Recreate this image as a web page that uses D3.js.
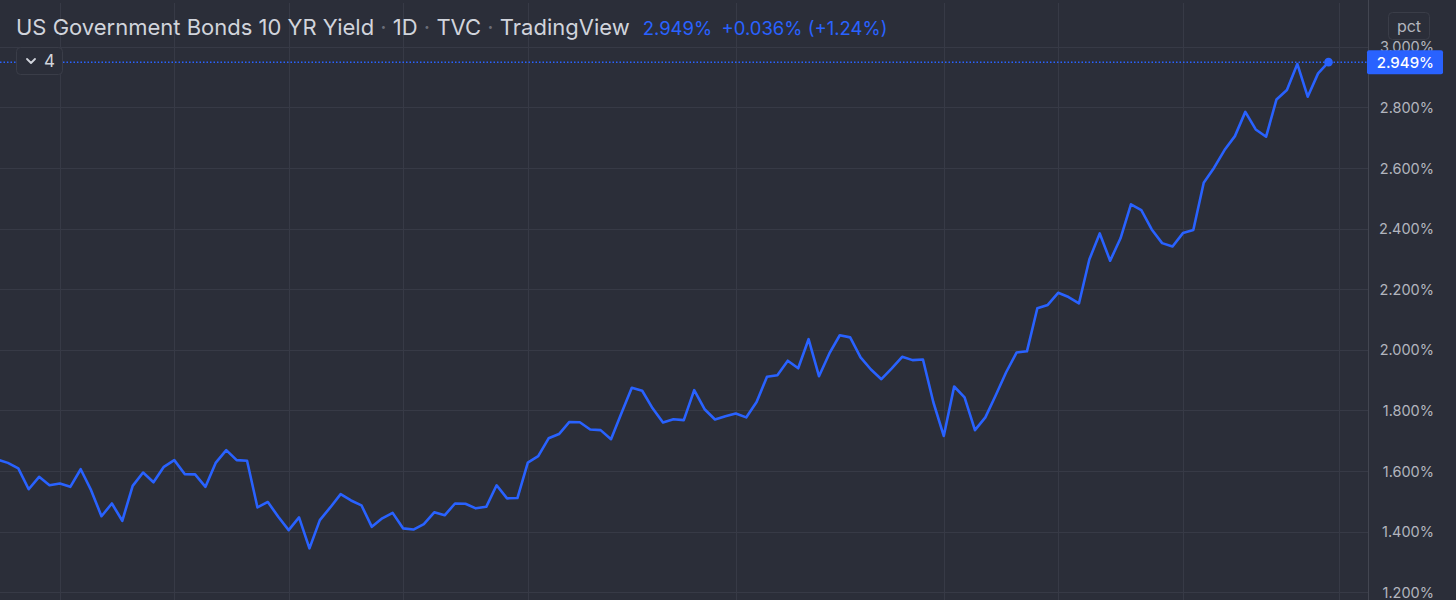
<!DOCTYPE html>
<html>
<head>
<meta charset="utf-8">
<script src="https://cdn.jsdelivr.net/npm/d3@7/dist/d3.min.js"></script>
<style>
  html, body { margin: 0; padding: 0; background: #2b2e39; }
  svg { display: block; }
</style>
</head>
<body>
<svg id="chart" width="1456" height="600"></svg>
<script>
// ---- Data (daily closes, US 10Y yield, %) ----
const yields = [
  1.638, 1.627, 1.609, 1.540, 1.581, 1.553, 1.559, 1.548, 1.606, 1.537,
  1.451, 1.493, 1.436, 1.551, 1.595, 1.563, 1.614, 1.636, 1.590, 1.589,
  1.548, 1.628, 1.669, 1.636, 1.634, 1.480, 1.498, 1.449, 1.405, 1.447,
  1.345, 1.438, 1.480, 1.524, 1.503, 1.487, 1.416, 1.444, 1.462, 1.411,
  1.407, 1.425, 1.464, 1.454, 1.493, 1.492, 1.477, 1.482, 1.553, 1.510,
  1.511, 1.628, 1.649, 1.708, 1.722, 1.762, 1.761, 1.737, 1.735, 1.705,
  1.791, 1.875, 1.865, 1.807, 1.760, 1.771, 1.768, 1.867, 1.804, 1.770,
  1.781, 1.790, 1.777, 1.828, 1.911, 1.916, 1.964, 1.939, 2.035, 1.913,
  1.988, 2.048, 2.041, 1.975, 1.935, 1.903, 1.939, 1.977, 1.966, 1.968,
  1.827, 1.716, 1.879, 1.843, 1.735, 1.777, 1.850, 1.926, 1.991, 1.995,
  2.137, 2.148, 2.188, 2.174, 2.153, 2.298, 2.384, 2.294, 2.368, 2.480,
  2.461, 2.397, 2.352, 2.341, 2.385, 2.395, 2.551, 2.601, 2.659, 2.705,
  2.785, 2.727, 2.703, 2.826, 2.857, 2.943, 2.835, 2.912, 2.949
];
const timeTickIndex = [6, 17, 28, 39, 51, 71, 91, 102, 114, 129];
const priceTicks = [1.2, 1.4, 1.6, 1.8, 2.0, 2.2, 2.4, 2.6, 2.8, 3.0];
const titleParts = ["US Government Bonds 10 YR Yield", "1D", "TVC", "TradingView"];
const lastValue = 2.949;
const change = "+0.036%";
const changePct = "(+1.24%)";
const intervalCount = "4";
const unitLabel = "pct";

// ---- Layout ----
const W = 1456, H = 600;
const axisX = 1368;
const BG = "#2b2e39", GRID = "#373a46", BORDER = "#434651";
const BLUE = "#2962ff", TEXT = "#d1d4dc", AXIS_TEXT = "#b2b5be";
const FONT = "Inter, 'Noto Sans', sans-serif";

const svg = d3.select("#chart");
svg.append("rect").attr("width", W).attr("height", H).attr("fill", BG);

const x = d3.scaleLinear().domain([0, yields.length - 1]).range([-2.5, 1328.5]);
const y = d3.scaleLinear().domain([1.2, 3.0]).range([592.3, 46.7]);

svg.append("defs").append("clipPath").attr("id", "plot")
  .append("rect").attr("x", 0).attr("y", 0).attr("width", axisX).attr("height", H);

const plot = svg.append("g").attr("clip-path", "url(#plot)");

// grid
plot.selectAll("line.vg").data(timeTickIndex).join("line")
  .attr("class", "vg")
  .attr("x1", d => Math.round(x(d)) + 0.5).attr("x2", d => Math.round(x(d)) + 0.5)
  .attr("y1", 3).attr("y2", H)
  .attr("stroke", GRID).attr("stroke-width", 1);
plot.selectAll("line.hg").data(priceTicks).join("line")
  .attr("class", "hg")
  .attr("x1", 0).attr("x2", axisX)
  .attr("y1", d => Math.round(y(d)) + 0.5).attr("y2", d => Math.round(y(d)) + 0.5)
  .attr("stroke", GRID).attr("stroke-width", 1);

// price line (dotted)
plot.append("line")
  .attr("x1", 0).attr("x2", axisX)
  .attr("y1", y(lastValue)).attr("y2", y(lastValue))
  .attr("stroke", BLUE).attr("stroke-width", 1.5)
  .attr("stroke-dasharray", "1.5,2");

// series line
const line = d3.line().x((d, i) => x(i)).y(d => y(d));
plot.append("path").datum(yields)
  .attr("d", line)
  .attr("fill", "none")
  .attr("stroke", BLUE)
  .attr("stroke-width", 2.6)
  .attr("stroke-linejoin", "round")
  .attr("stroke-linecap", "round");

plot.append("circle")
  .attr("cx", x(yields.length - 1)).attr("cy", y(yields[yields.length - 1]))
  .attr("r", 4.3).attr("fill", BLUE);

// right axis
svg.append("line")
  .attr("x1", axisX + 0.5).attr("x2", axisX + 0.5).attr("y1", 0).attr("y2", H)
  .attr("stroke", BORDER).attr("stroke-width", 1);

const axisG = svg.append("g").attr("transform", `translate(1434,0)`);
const yAxis = d3.axisRight(y).tickValues(priceTicks)
  .tickFormat(d => d3.format(".3f")(d) + "%").tickSize(0).tickPadding(0);
axisG.call(yAxis);
axisG.select(".domain").remove();
axisG.selectAll("text")
  .attr("text-anchor", "end")
  .attr("fill", AXIS_TEXT)
  .attr("font-family", FONT)
  .attr("font-size", 14.5)
  .attr("dy", "0.35em");

// pct box
svg.append("rect")
  .attr("x", 1388.5).attr("y", 12.5).attr("width", 41).attr("height", 27).attr("rx", 4)
  .attr("fill", BG).attr("stroke", "#3a3d48");
svg.append("text")
  .attr("x", 1409).attr("y", 26).attr("dy", "0.35em")
  .attr("text-anchor", "middle")
  .attr("fill", AXIS_TEXT)
  .attr("font-family", FONT)
  .attr("font-size", 16)
  .text(unitLabel);

// last price label
svg.append("rect")
  .attr("x", 1367).attr("y", y(lastValue) - 12).attr("width", 76).attr("height", 24).attr("rx", 2)
  .attr("fill", BLUE);
svg.append("text")
  .attr("x", 1434).attr("y", y(lastValue)).attr("dy", "0.36em")
  .attr("text-anchor", "end")
  .attr("fill", "#ffffff")
  .attr("font-family", FONT)
  .attr("font-size", 15).attr("font-weight", 500)
  .text(d3.format(".3f")(lastValue) + "%");

// title
const title = svg.append("text")
  .attr("x", 16).attr("y", 35)
  .attr("font-family", FONT)
  .attr("font-size", 22)
  .attr("fill", TEXT);
titleParts.forEach((p, i) => {
  if (i > 0) title.append("tspan").attr("fill", "#6a6d78").text(" · ");
  title.append("tspan").text(p);
});
const tEnd = 16 + title.node().getComputedTextLength();
svg.append("text")
  .attr("x", tEnd + 13).attr("y", 35)
  .attr("font-family", FONT)
  .attr("font-size", 18.5)
  .attr("fill", BLUE)
  .text(d3.format(".3f")(lastValue) + "%\u2002" + change + " " + changePct);

// legend collapse box
svg.append("rect")
  .attr("x", 16.5).attr("y", 47.5).attr("width", 46).attr("height", 27).attr("rx", 4)
  .attr("fill", BG).attr("stroke", "#3a3d48");
svg.append("path")
  .attr("d", "M27,59 L31,63 L35,59")
  .attr("fill", "none").attr("stroke", TEXT).attr("stroke-width", 1.8)
  .attr("stroke-linecap", "round").attr("stroke-linejoin", "round");
svg.append("text")
  .attr("x", 44).attr("y", 61).attr("dy", "0.36em")
  .attr("font-family", FONT)
  .attr("font-size", 17)
  .attr("fill", TEXT)
  .text(intervalCount);
</script>
</body>
</html>
